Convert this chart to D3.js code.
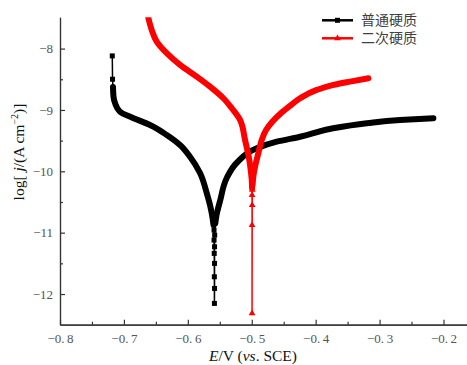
<!DOCTYPE html>
<html>
<head>
<meta charset="utf-8">
<script src="https://cdn.jsdelivr.net/npm/d3@7"></script>
<style>
body { margin: 0; background: #fff; }
svg text { font-family: "Liberation Serif", "Times New Roman", serif; }
</style>
</head>
<body>
<svg id="chart" width="467" height="365"></svg>
<script>
// Series data: potential E (V vs. SCE) and log j
var seriesNames = ["普通硬质", "二次硬质"];

var blackE = [-0.7182, -0.7178, -0.7171, -0.7163, -0.7139, -0.7061, -0.6858, -0.6592, -0.6330, -0.6122,
	-0.5966, -0.5809, -0.5704, -0.5653, -0.5621, -0.5598, -0.5590, -0.5590, -0.5587, -0.5585,
	-0.5584, -0.5582, -0.5582, -0.5582, -0.5580, -0.5570, -0.5551, -0.5496, -0.5391, -0.5230,
	-0.4922, -0.4609, -0.4244, -0.3728, -0.3200, -0.2679, -0.2158];
var blackLogJ = [-8.119, -8.499, -8.625, -8.783, -8.886, -9.028, -9.130, -9.245, -9.408, -9.571,
	-9.762, -10.028, -10.354, -10.550, -10.713, -10.876, -10.958, -11.121, -11.338, -11.719,
	-12.153, -11.909, -11.501, -11.230, -11.039, -10.850, -10.713, -10.485, -10.109, -9.856,
	-9.625, -9.517, -9.436, -9.299, -9.217, -9.163, -9.135];

var redE = [-0.6618, -0.6565, -0.6487, -0.6330, -0.6122, -0.5861, -0.5653, -0.5444, -0.5313, -0.5183,
	-0.5105, -0.5038, -0.5011, -0.5000, -0.4995, -0.4995, -0.4995, -0.4995, -0.4993, -0.4991,
	-0.4987, -0.4972, -0.4948, -0.4897, -0.4844, -0.4776, -0.4682, -0.4557, -0.4401, -0.4244,
	-0.3983, -0.3723, -0.3462, -0.3175];
var redLogJ = [-7.499, -7.695, -7.886, -8.075, -8.266, -8.457, -8.620, -8.809, -8.972, -9.163,
	-9.489, -9.815, -10.028, -10.142, -10.277, -10.387, -10.876, -12.316, -10.550, -10.300,
	-10.223, -10.060, -9.925, -9.706, -9.489, -9.326, -9.196, -9.065, -8.935, -8.809,
	-8.674, -8.592, -8.538, -8.483];

// index ranges where the measured points are so dense they merge into a band
var blackBands = [[2, 15], [25, 36]];
var redBands = [[0, 14], [20, 33]];

var xTicks = [-0.8, -0.7, -0.6, -0.5, -0.4, -0.3, -0.2];
var xMinor = [-0.75, -0.65, -0.55, -0.45, -0.35, -0.25];
var yTicks = [-8, -9, -10, -11, -12];
var yMinor = [-8.5, -9.5, -10.5, -11.5];

var svg = d3.select("#chart");

var x = d3.scaleLinear().domain([-0.8, -0.164]).range([60, 466.5]);
var y = d3.scaleLinear().domain([-12.5, -7.49]).range([324.7, 17.3]);

function zip(es, ls) {
	return es.map(function(e, i) { return [e, ls[i]]; });
}

var series = [
	{name: seriesNames[0], color: "#000000", marker: "square", points: zip(blackE, blackLogJ), bands: blackBands},
	{name: seriesNames[1], color: "#ff0000", marker: "triangle", points: zip(redE, redLogJ), bands: redBands}
];

svg.append("defs").append("clipPath")
	.attr("id", "plotClip")
	.append("rect")
	.attr("x", 60)
	.attr("y", 17.3)
	.attr("width", 407)
	.attr("height", 307.4);

// Axes
var fmtX = function(d) { return d3.format(".1f")(d).replace(".", ".\u2009"); };

svg.append("g").attr("transform", "translate(0," + y.range()[0] + ")")
	.call(d3.axisBottom(x).tickValues(xTicks).tickFormat(fmtX).tickSize(-5).tickSizeOuter(0).tickPadding(9));
svg.append("g").attr("transform", "translate(0," + y.range()[0] + ")")
	.call(d3.axisBottom(x).tickValues(xMinor).tickFormat("").tickSize(-3).tickSizeOuter(0));

svg.append("g").attr("transform", "translate(" + x.range()[0] + ",0)")
	.call(d3.axisLeft(y).tickValues(yTicks).tickFormat(d3.format("d")).tickSize(-5).tickSizeOuter(0).tickPadding(7));
svg.append("g").attr("transform", "translate(" + x.range()[0] + ",0)")
	.call(d3.axisLeft(y).tickValues(yMinor).tickFormat("").tickSize(-3).tickSizeOuter(0));

svg.selectAll(".domain, .tick line").attr("stroke", "#333").attr("stroke-width", 1.2);
svg.selectAll(".tick text")
	.attr("fill", "#555")
	.style("font-size", "13px")
	.style("font-family", "'Liberation Serif', serif");

// Axis titles
var xt = svg.append("text")
	.attr("x", 253)
	.attr("y", 361)
	.attr("text-anchor", "middle")
	.style("font-size", "15.5px")
	.attr("fill", "#111");
xt.append("tspan").style("font-style", "italic").text("E");
xt.append("tspan").text("/V (");
xt.append("tspan").style("font-style", "italic").text("vs");
xt.append("tspan").text(". SCE)");

var yt = svg.append("text")
	.attr("transform", "translate(24,152) rotate(-90)")
	.attr("text-anchor", "middle")
	.style("font-size", "15.5px")
	.attr("fill", "#111");
yt.append("tspan").text("log[ ");
yt.append("tspan").style("font-style", "italic").text("j");
yt.append("tspan").text("/(A cm");
yt.append("tspan").attr("dy", "-6").style("font-size", "10px").text("\u22122");
yt.append("tspan").attr("dy", "6").text(")]");

// Curves
var plot = svg.append("g").attr("clip-path", "url(#plotClip)");

var thinLine = d3.line()
	.x(function(d) { return x(d[0]); })
	.y(function(d) { return y(d[1]); });

// bands are smoothed as x = f(y), so sort them top to bottom first
var bandLine = d3.line()
	.curve(d3.curveMonotoneY)
	.x(function(d) { return x(d[0]); })
	.y(function(d) { return y(d[1]); });

function inBand(s, i) {
	for (var k = 0; k < s.bands.length; k++) {
		if (i >= s.bands[k][0] && i <= s.bands[k][1]) return true;
	}
	return false;
}

function drawMarker(g, type, px, py, color) {
	if (type == "square") {
		g.append("rect")
			.attr("x", px - 2.5)
			.attr("y", py - 2.5)
			.attr("width", 5)
			.attr("height", 5)
			.attr("fill", color);
	}
	else {
		g.append("path")
			.attr("d", d3.symbol(d3.symbolTriangle).size(20)())
			.attr("transform", "translate(" + px + "," + py + ")")
			.attr("fill", color);
	}
}

series.forEach(function(s) {
	var g = plot.append("g");

	g.append("path")
		.attr("d", thinLine(s.points))
		.attr("fill", "none")
		.attr("stroke", s.color)
		.attr("stroke-width", 1.5);

	s.bands.forEach(function(b) {
		var pts = s.points.slice(b[0], b[1] + 1).sort(function(a, c) { return c[1] - a[1]; });
		g.append("path")
			.attr("d", bandLine(pts))
			.attr("fill", "none")
			.attr("stroke", s.color)
			.attr("stroke-width", 6)
			.attr("stroke-linecap", "round")
			.attr("stroke-linejoin", "round");
	});

	s.points.forEach(function(p, i) {
		if (!inBand(s, i)) {
			drawMarker(g, s.marker, x(p[0]), y(p[1]), s.color);
		}
	});
});

// Legend
var legend = svg.append("g");
series.forEach(function(s, i) {
	var ly = 20.3 + i * 18;
	legend.append("line")
		.attr("x1", 322)
		.attr("x2", 353)
		.attr("y1", ly)
		.attr("y2", ly)
		.attr("stroke", s.color)
		.attr("stroke-width", 2.5);
	drawMarker(legend, s.marker, 337.5, ly, s.color);
	legend.append("text")
		.attr("x", 361)
		.attr("y", ly + 5)
		.style("font-family", "'Noto Sans CJK SC', sans-serif")
		.style("font-size", "14px")
		.attr("fill", "#404040")
		.text(s.name);
});
</script>
</body>
</html>
